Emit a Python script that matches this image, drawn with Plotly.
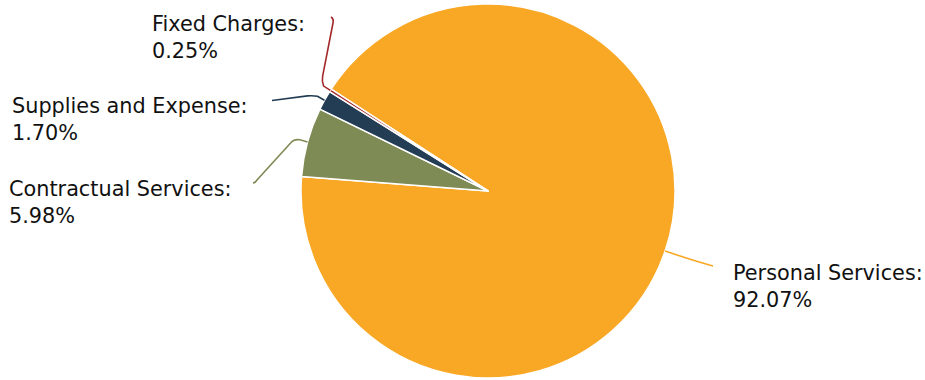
import math
import plotly.graph_objects as go

# ---- data ----
labels = ["Personal Services", "Contractual Services", "Supplies and Expense", "Fixed Charges"]
values = [92.07, 5.98, 1.70, 0.25]
colors = ["#F9A826", "#7F8B55", "#233D54", "#A3282A"]

# ---- layout constants (pixels, in screenshot coordinates) ----
W, H = 925, 380
CX, CY, R = 488.0, 191.0, 187.0
START = -57.0  # clockwise degrees from 12 o'clock where first slice begins
FONT = "DejaVu Sans"
FS = 20.8

# label block top-left positions (pixels)
label_pos = {
    "Personal Services": (731, 258.5),
    "Contractual Services": (7, 174.5),
    "Supplies and Expense": (10, 91.5),
    "Fixed Charges": (150, 9.5),
}


def px(x):
    return x / W


def py(y):
    return 1 - y / H


fig = go.Figure()
fig.add_trace(go.Pie(
    labels=labels,
    values=values,
    marker=dict(colors=colors, line=dict(color="#FFFFFF", width=1.5)),
    sort=False,
    direction="clockwise",
    rotation=START,
    textinfo="none",
    hoverinfo="label+percent",
    domain=dict(x=[px(CX - R), px(CX + R)], y=[py(CY + R), py(CY - R)]),
    showlegend=False,
))

total = sum(values)
cum = 0.0
geo = {}
for lab, v in zip(labels, values):
    mid = math.radians(START + 360.0 * (cum + v / 2) / total)
    cum += v
    s, c = math.sin(mid), -math.cos(mid)
    p0 = (CX + R * s, CY + R * c)
    p1 = (CX + (R + 8) * s, CY + (R + 8) * c)
    p2 = (CX + (R + 30) * s, CY + (R + 30) * c)
    geo[lab] = (p0, p1, p2)


def P(pt):
    return f"{px(pt[0]):.5f},{py(pt[1]):.5f}"


paths = {}
# Personal Services: smooth curve to the right label
p0, p1, p2 = geo["Personal Services"]
end = (713, 266)
paths["Personal Services"] = f"M{P(p0)} Q{P(p2)} {P(end)}"

# Contractual Services
p0, p1, p2 = geo["Contractual Services"]
end = (253, 183)
paths["Contractual Services"] = (
    f"M{P(p0)} L{P(p1)} Q{P((p1[0]-6, p1[1]-1))} {P((p1[0]-9, p1[1]+3))} "
    f"L{P((end[0]+4, end[1]-3))} Q{P((end[0]+2, end[1]))} {P(end)}"
)

# Supplies and Expense
p0, p1, p2 = geo["Supplies and Expense"]
end = (272, 100.5)
paths["Supplies and Expense"] = (
    f"M{P(p0)} L{P(p1)} Q{P((p1[0]-4, p1[1]-1))} {P((p1[0]-10, p1[1]-0.5))} L{P(end)}"
)

# Fixed Charges
p0, p1, p2 = geo["Fixed Charges"]
top = (331, 17)
paths["Fixed Charges"] = (
    f"M{P(p0)} L{P(p1)} Q{P((p1[0]-2, p1[1]-5))} {P((p1[0]-1, p1[1]-10))} "
    f"L{P((top[0]+2, top[1]+6))} Q{P((top[0]+3, top[1]+2))} {P(top)}"
)

shapes = []
for lab, col in zip(labels, colors):
    shapes.append(dict(type="path", path=paths[lab], xref="paper", yref="paper",
                       line=dict(color=col, width=1.6), layer="above"))

annotations = []
for lab, v in zip(labels, values):
    x, y = label_pos[lab]
    annotations.append(dict(
        text=f"{lab}:<br>{v:.2f}%",
        x=px(x), y=py(y), xref="paper", yref="paper",
        xanchor="left", yanchor="top", align="left",
        showarrow=False,
        font=dict(family=FONT, size=FS, color="#111111"),
    ))

fig.update_layout(
    width=W, height=H,
    margin=dict(l=0, r=0, t=0, b=0),
    paper_bgcolor="#FFFFFF",
    plot_bgcolor="#FFFFFF",
    shapes=shapes,
    annotations=annotations,
    font=dict(family=FONT),
)

fig.write_html("out.html", config={"displayModeBar": False},
               post_script="document.body.style.margin='0';")
